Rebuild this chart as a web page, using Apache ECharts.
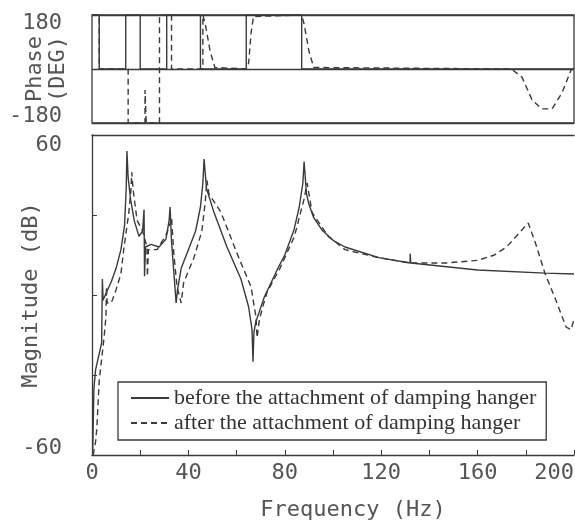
<!DOCTYPE html>
<html>
<head>
<meta charset="utf-8">
<script src="https://cdn.jsdelivr.net/npm/echarts@6/dist/echarts.min.js"></script>
<style>
  html, body { margin: 0; background: #fff; }
  #chart { width: 575px; height: 528px; }
</style>
</head>
<body>
<div id="chart"></div>
<script>
// magnitude, before the attachment (solid)
var beforeFreq = [0.3, 0.8, 1.5, 3, 4, 4.3, 4.6, 6, 8, 10, 12, 13.5, 14.2, 14.5, 15, 16, 17.5, 19.5, 21, 21.6,
  21.8, 22.2, 24.5, 27.8, 30.7, 32, 32.4, 33, 34, 34.9, 35.5, 37, 40, 43, 45, 46, 46.5, 47.5, 50.6, 56,
  61.8, 65, 66.4, 66.8, 67.2, 68, 71.4, 76.8, 80, 83.8, 86, 87.5, 88, 89, 90, 92, 95.4, 100, 105, 119, 132, 132,
  132.3, 160, 188, 200]
var beforeMag = [-58, -35, -28, -22, -18, 6, -2, 1, 5, 10, 17, 26, 40, 54, 44, 36, 28, 22, 24, 32,
  7, 18, 19, 18, 21, 28, 33, 20, 8, -3, 2, 10, 17, 24, 33, 42, 51, 40, 31, 18,
  6, -4.5, -13, -25, -14, -10, -1, 9.4, 15, 24.4, 33, 42, 50, 38, 34, 29, 24.4, 20.5, 18, 14, 12, 15.5,
  12, 9.4, 8.2, 7.9]

// magnitude, after the attachment (dashed)
var afterFreq = [0.5, 1.5, 2, 3, 5, 5.8, 6, 6.3, 8, 10, 12, 13.3, 15.3, 16.2, 16.5, 17, 18.7, 21, 22.8, 23,
  23.4, 25, 27, 31, 32.5, 33, 34, 35.3, 37, 38, 40, 42.3, 45.6, 47, 47.7, 48.5, 53.5, 60, 66, 68,
  68.5, 69.5, 71, 72.6, 78, 84, 88, 89.3, 90, 91.3, 98, 105, 119, 132, 147, 160, 167, 172, 177, 181,
  184, 188, 192.5, 196.7, 198.8, 200]
var afterMag = [-60, -55, -50, -32, -16, -8, 3, -3, -3, 2, 8, 18, 31, 40, 46, 40, 28, 24, 18, 7,
  17, 17, 17, 23, 27, 29, 15, 3, -3, 4.5, 9, 14, 24, 35, 43, 38, 31, 16, 3, -8,
  -16, -9, -4, 1, 10, 22, 36, 42, 38, 31, 22, 17, 14, 12, 12, 13, 15, 18, 23, 27,
  19.5, 8, -2, -12, -13, -9]

// phase
var beforePhaseFreq = [0, 3, 3, 14, 14, 20, 20, 31, 31, 45, 45, 64, 64, 87, 87, 200]
var beforePhase = [180, 180, 0, 0, 180, 180, 0, 0, 180, 180, 0, 0, 180, 180, 0, 0]
var afterPhaseFreq = [0, 3, 3, 15, 15, 22, 22, 22.5, 28, 28, 33, 33, 46, 46, 47, 49, 51, 64, 65, 66,
  67, 87, 88, 90, 92, 174, 178.4, 182.6, 186.7, 190.9, 195, 198.8, 200]
var afterPhase = [180, 180, 0, 0, -180, -180, -70, -180, -180, 180, 180, 0, 0, 180, 150, 60, 5, 0, 20, 120,
  175, 180, 150, 60, 5, 0, -27, -103, -133, -133, -80, -3, 0]

var nameBefore = 'before the attachment of damping hanger'
var nameAfter = 'after the attachment of damping hanger'

function zip(xs, ys) {
  return xs.map(function (x, i) { return [x, ys[i]] })
}

var mono = 'DejaVu Sans Mono'
var ink = '#3a3a3a'
var textGray = '#555'

var chart = echarts.init(document.getElementById('chart'))
chart.setOption({
  animation: false,
  backgroundColor: '#fff',
  grid: [
    { left: 92, right: 1, top: 15, height: 108, show: true, borderColor: ink, borderWidth: 1.3,
      containLabel: false, outerBoundsMode: 'none' },
    { left: 92, right: 1, top: 135, height: 320, containLabel: false, outerBoundsMode: 'none' }
  ],
  legend: {
    data: [nameBefore, nameAfter],
    orient: 'vertical',
    left: 118,
    top: 382,
    itemWidth: 38,
    itemHeight: 12,
    itemGap: 3,
    padding: [5, 10, 6, 12],
    borderColor: ink,
    borderWidth: 1.3,
    selectedMode: false,
    itemStyle: { opacity: 0 },
    textStyle: { fontFamily: 'Liberation Serif', fontSize: 22, color: '#333' }
  },
  xAxis: [
    { gridIndex: 0, type: 'value', min: 0, max: 200, show: false },
    {
      gridIndex: 1,
      type: 'value',
      position: 'bottom',
      min: 0,
      max: 200,
      interval: 20,
      name: 'Frequency (Hz)',
      nameLocation: 'middle',
      nameGap: 44,
      nameMoveOverlap: false,
      nameTextStyle: { fontFamily: mono, fontSize: 22, color: textGray, padding: [0, 0, 0, 40] },
      axisLine: { onZero: false, lineStyle: { color: ink, width: 1.3 } },
      axisTick: { inside: true, length: 5, lineStyle: { color: ink } },
      axisLabel: {
        fontFamily: mono,
        fontSize: 22,
        color: textGray,
        margin: 7,
        alignMaxLabel: 'right',
        formatter: function (v) { return v % 40 === 0 ? String(v) : '' }
      },
      splitLine: { show: false }
    },
    {
      gridIndex: 1,
      type: 'value',
      position: 'top',
      min: 0,
      max: 200,
      axisLine: { show: true, onZero: false, lineStyle: { color: ink, width: 1.3 } },
      axisTick: { show: false },
      axisLabel: { show: false },
      splitLine: { show: false }
    }
  ],
  yAxis: [
    {
      gridIndex: 0,
      type: 'value',
      min: -180,
      max: 180,
      interval: 180,
      name: 'Phase\n(DEG)',
      nameLocation: 'middle',
      nameGap: 22,
      nameRotate: 90,
      nameMoveOverlap: false,
      nameTextStyle: { fontFamily: mono, fontSize: 22, color: textGray, lineHeight: 23 },
      axisLine: { show: false },
      axisTick: { show: false },
      splitLine: { show: true, lineStyle: { color: ink, width: 1.3 } },
      axisLabel: {
        margin: 30,
        formatter: function (v) {
          if (v === 180) return '{t|180}'
          if (v === -180) return '{b|-180}'
          return ''
        },
        rich: {
          t: { fontFamily: mono, fontSize: 22, color: textGray, padding: [16, 0, 0, 0] },
          b: { fontFamily: mono, fontSize: 22, color: textGray, padding: [0, 0, 14, 0] }
        }
      }
    },
    {
      gridIndex: 1,
      type: 'value',
      min: -60,
      max: 60,
      interval: 30,
      name: 'Magnitude (dB)',
      nameLocation: 'middle',
      nameGap: 50,
      nameRotate: 90,
      nameMoveOverlap: false,
      nameTextStyle: { fontFamily: mono, fontSize: 22, color: textGray },
      axisLine: { show: true, onZero: false, lineStyle: { color: ink, width: 1.3 } },
      axisTick: { inside: true, length: 5, lineStyle: { color: ink } },
      splitLine: { show: false },
      axisLabel: {
        margin: 30,
        formatter: function (v) {
          if (v === 60) return '{t|60}'
          if (v === -60) return '{b|-60}'
          return ''
        },
        rich: {
          t: { fontFamily: mono, fontSize: 22, color: textGray, padding: [20, 0, 0, 0] },
          b: { fontFamily: mono, fontSize: 22, color: textGray, padding: [0, 0, 14, 0] }
        }
      }
    }
  ],
  series: [
    {
      name: nameBefore,
      type: 'line',
      xAxisIndex: 1,
      yAxisIndex: 1,
      symbol: 'none',
      data: zip(beforeFreq, beforeMag),
      itemStyle: { color: ink },
      lineStyle: { color: ink, width: 1.4 }
    },
    {
      name: nameAfter,
      type: 'line',
      xAxisIndex: 1,
      yAxisIndex: 1,
      symbol: 'none',
      data: zip(afterFreq, afterMag),
      itemStyle: { color: ink },
      lineStyle: { color: ink, width: 1.4, type: [6, 4] }
    },
    {
      name: nameBefore,
      type: 'line',
      xAxisIndex: 0,
      yAxisIndex: 0,
      symbol: 'none',
      data: zip(beforePhaseFreq, beforePhase),
      lineStyle: { color: ink, width: 1.4 }
    },
    {
      name: nameAfter,
      type: 'line',
      xAxisIndex: 0,
      yAxisIndex: 0,
      symbol: 'none',
      data: zip(afterPhaseFreq, afterPhase),
      lineStyle: { color: ink, width: 1.4, type: [6, 4] }
    }
  ]
})
</script>
</body>
</html>
